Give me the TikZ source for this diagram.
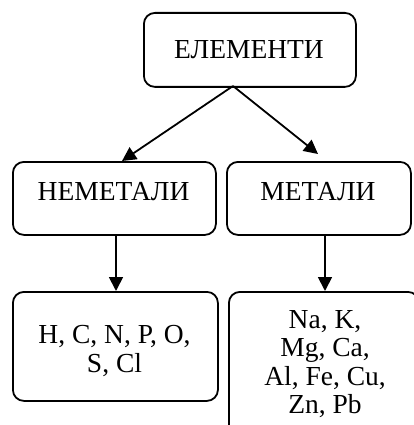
\documentclass[tikz,border=0pt]{standalone}
\usepackage{fontspec}
\setmainfont{Liberation Serif}
\usetikzlibrary{arrows.meta}
\begin{document}
\begin{tikzpicture}[x=1pt,y=-1pt,
  box/.style={draw=black,line width=1.8pt,rounded corners=11pt,inner sep=0pt,anchor=north west},
  txt/.style={font=\fontsize{27.5}{28.5}\selectfont,align=center,inner sep=0pt},
  conn/.style={line width=1.8pt,-{Triangle[length=14pt,width=14pt]}}]
\path[use as bounding box] (0,0) rectangle (414,425);
\clip (0,0) rectangle (414,425);
\node[box,minimum width=212pt,minimum height=74pt] (el) at (143,12) {};
\node[txt] (elt) at (249,50) {ЕЛЕМЕНТИ};
\node[box,minimum width=203pt,minimum height=73pt] (nm) at (12,161) {};
\node[txt] (nmt) at (113.5,192) {НЕМЕТАЛИ};
\node[box,minimum width=184pt,minimum height=73pt] (me) at (226,161) {};
\node[txt] (met) at (318,192) {МЕТАЛИ};
\node[box,minimum width=205pt,minimum height=109pt] (nl) at (12,291) {};
\node[txt] (nlt) at (114.5,351) {H, C, N, P, O,\\S, Cl};
\node[box,minimum width=190pt,minimum height=150pt] (ml) at (228,291) {};
\node[txt] (mlt) at (325,364) {Na, K,\\Mg, Ca,\\Al, Fe, Cu,\\Zn, Pb};
\coordinate (top) at (233,86);
\coordinate (ra) at (318,154);
\draw[conn] (top) -- (nm.north -| 122,0);
\draw[conn] (top) -- (ra);
\draw[conn] (nm.south -| 116,0) -- (nl.north -| 116,0);
\draw[conn] (me.south -| 325,0) -- (ml.north -| 325,0);
\end{tikzpicture}
\end{document}
